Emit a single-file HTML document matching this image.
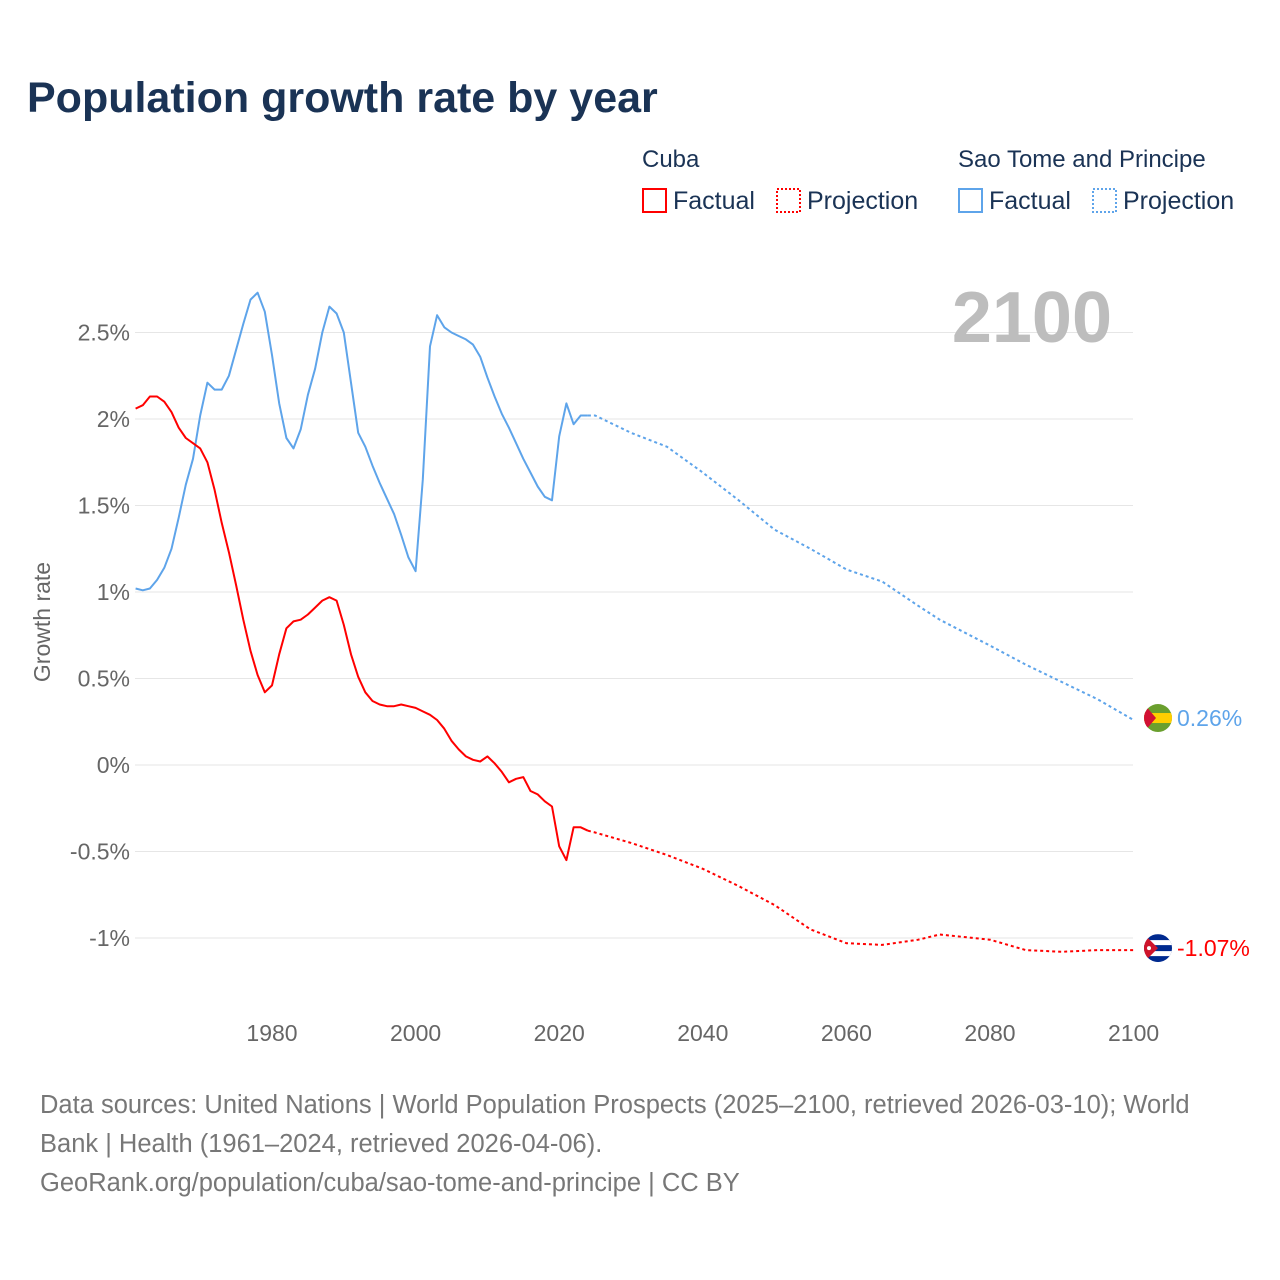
<!DOCTYPE html>
<html><head><meta charset="utf-8"><style>
body{margin:0;background:#fff;font-family:"Liberation Sans",sans-serif;}
#wrap{position:relative;width:1280px;height:1280px;overflow:hidden;}
</style></head><body>
<div id="wrap">
<svg id="chart" width="1280" height="1280" style="position:absolute;left:0;top:0"></svg>
</div>
<script>
const cubaYears=[1961,1962,1963,1964,1965,1966,1967,1968,1969,1970,1971,1972,1973,1974,1975,1976,1977,1978,1979,1980,1981,1982,1983,1984,1985,1986,1987,1988,1989,1990,1991,1992,1993,1994,1995,1996,1997,1998,1999,2000,2001,2002,2003,2004,2005,2006,2007,2008,2009,2010,2011,2012,2013,2014,2015,2016,2017,2018,2019,2020,2021,2022,2023,2024];
const cubaFactual=[2.06,2.08,2.13,2.13,2.10,2.04,1.95,1.89,1.86,1.83,1.75,1.59,1.40,1.23,1.04,0.84,0.66,0.52,0.42,0.46,0.64,0.79,0.83,0.84,0.87,0.91,0.95,0.97,0.95,0.81,0.64,0.51,0.42,0.37,0.35,0.34,0.34,0.35,0.34,0.33,0.31,0.29,0.26,0.21,0.14,0.09,0.05,0.03,0.02,0.05,0.01,-0.04,-0.10,-0.08,-0.07,-0.15,-0.17,-0.21,-0.24,-0.47,-0.55,-0.36,-0.36,-0.38];
const stpFactual=[1.02,1.01,1.02,1.07,1.14,1.25,1.43,1.62,1.77,2.02,2.21,2.17,2.17,2.25,2.40,2.55,2.69,2.73,2.62,2.37,2.09,1.89,1.83,1.94,2.14,2.29,2.50,2.65,2.61,2.50,2.21,1.92,1.84,1.73,1.63,1.54,1.45,1.33,1.20,1.12,1.65,2.42,2.60,2.53,2.50,2.48,2.46,2.43,2.36,2.24,2.13,2.03,1.95,1.86,1.77,1.69,1.61,1.55,1.53,1.90,2.09,1.97,2.02,2.02];
const projYears=[2024,2025,2030,2035,2040,2045,2050,2055,2060,2065,2070,2073,2080,2085,2090,2095,2100];
const cubaProj=[-0.38,-0.39,-0.45,-0.52,-0.60,-0.70,-0.81,-0.95,-1.03,-1.04,-1.01,-0.98,-1.01,-1.07,-1.08,-1.07,-1.07];
const stpProj=[2.02,2.02,1.92,1.84,1.69,1.53,1.36,1.25,1.13,1.06,0.92,0.84,0.69,0.58,0.48,0.38,0.26];
const yTicks=[-1,-0.5,0,0.5,1,1.5,2,2.5];
const yTickLabels=["-1%","-0.5%","0%","0.5%","1%","1.5%","2%","2.5%"];
const xTicks=[1980,2000,2020,2040,2060,2080,2100];

const NS="http://www.w3.org/2000/svg";
const svg=document.getElementById('chart');
const xS=y=>272+(y-1980)*7.18;
const yS=v=>765-v*173;
function el(t,a,txt){const e=document.createElementNS(NS,t);for(const k in a)e.setAttribute(k,a[k]);if(txt!==undefined)e.textContent=txt;svg.appendChild(e);return e;}

let e;
e=el('text',{x:27,y:112,'font-size':43,'font-weight':'bold',fill:'#1a3355'},'Population growth rate by year');



e=el('text',{x:642,y:167,'font-size':24,fill:'#1a3355'},'Cuba');


e=el('text',{x:958,y:167,'font-size':24,fill:'#1a3355'},'Sao Tome and Principe');


const leg=[[642,'#ff0000','','Factual','legend-cuba-factual'],[776,'#ff0000','2,2','Projection','legend-cuba-projection'],[958,'#5ea4ea','','Factual','legend-stp-factual'],[1092,'#5ea4ea','2,2','Projection','legend-stp-projection']];
leg.forEach(l=>{
 const g=el('g',{});
 
 
 const r=document.createElementNS(NS,'rect');
 r.setAttribute('x',l[0]+1);r.setAttribute('y',189);r.setAttribute('width',23);r.setAttribute('height',23);
 r.setAttribute('fill','none');r.setAttribute('stroke',l[1]);r.setAttribute('stroke-width',2);
 if(l[2])r.setAttribute('stroke-dasharray',l[2]);
 g.appendChild(r);
 const t=document.createElementNS(NS,'text');
 t.setAttribute('x',l[0]+31);t.setAttribute('y',209);t.setAttribute('font-size',25);t.setAttribute('fill','#1a3355');
 t.textContent=l[3];g.appendChild(t);
});

yTicks.forEach((v,i)=>{
 e=el('line',{x1:135,x2:1133,y1:yS(v),y2:yS(v),stroke:'#e6e6e6','stroke-width':1});
 
 
 e=el('text',{x:130,y:yS(v)+8,'font-size':23,fill:'#666','text-anchor':'end'},yTickLabels[i]);
 
 
});
xTicks.forEach(y=>{
 e=el('text',{x:xS(y),y:1041,'font-size':23,fill:'#666','text-anchor':'middle'},String(y));
 
 
});
e=el('text',{x:0,y:0,'font-size':23,fill:'#666','text-anchor':'middle',transform:'translate(50,622) rotate(-90)'},'Growth rate');


e=el('text',{x:1112,y:342,'font-size':72,'font-weight':'bold',fill:'#bdbdbd','text-anchor':'end'},'2100');



function line(xs,vs,color,dash,name){
 const d=xs.map((x,i)=>(i?'L':'M')+xS(x).toFixed(1)+','+yS(vs[i]).toFixed(1)).join('');
 const p=el('path',{d:d,fill:'none',stroke:color,'stroke-width':2,'stroke-linejoin':'round'});
 if(dash)p.setAttribute('stroke-dasharray',dash);
 
 
}
line(cubaYears,stpFactual,'#5ea4ea','','stp-factual-line');
line(projYears,stpProj,'#5ea4ea','3,3','stp-projection-line');
line(cubaYears,cubaFactual,'#ff0000','','cuba-factual-line');
line(projYears,cubaProj,'#ff0000','3,3','cuba-projection-line');

const stpV=stpProj[stpProj.length-1], cuV=cubaProj[cubaProj.length-1];
const fx=1158;
let g=el('g',{});


const sy=yS(stpV)-2;
g.innerHTML=`<clipPath id="c1"><circle cx="${fx}" cy="${sy}" r="14"/></clipPath><g clip-path="url(#c1)"><rect x="${fx-14}" y="${sy-14}" width="28" height="28" fill="#6a9f2e"/><rect x="${fx-14}" y="${sy-5}" width="28" height="10" fill="#ffce00"/><polygon points="${fx-14},${sy-14} ${fx-2},${sy} ${fx-14},${sy+14}" fill="#d21034"/></g>`;
e=el('text',{x:1177,y:sy+8,'font-size':23,fill:'#5ea4ea'},stpV.toFixed(2)+'%');


g=el('g',{});


const cy=yS(cuV)-2;
g.innerHTML=`<clipPath id="c2"><circle cx="${fx}" cy="${cy}" r="14"/></clipPath><g clip-path="url(#c2)"><rect x="${fx-14}" y="${cy-14}" width="28" height="28" fill="#002a8f"/><rect x="${fx-14}" y="${cy-8}" width="28" height="5" fill="#fff"/><rect x="${fx-14}" y="${cy+3}" width="28" height="5" fill="#fff"/><polygon points="${fx-14},${cy-14} ${fx},${cy} ${fx-14},${cy+14}" fill="#cf142b"/><circle cx="${fx-9}" cy="${cy}" r="2" fill="#fff"/></g>`;
e=el('text',{x:1177,y:cy+8,'font-size':23,fill:'#ff0000'},cuV.toFixed(2)+'%');



const foot=['Data sources: United Nations | World Population Prospects (2025–2100, retrieved 2026-03-10); World','Bank | Health (1961–2024, retrieved 2026-04-06).','GeoRank.org/population/cuba/sao-tome-and-principe | CC BY'];
foot.forEach((t,i)=>{
 e=el('text',{x:40,y:1113+i*39,'font-size':25.5,fill:'#777'},t);
 
 
});
</script>
</body></html>
